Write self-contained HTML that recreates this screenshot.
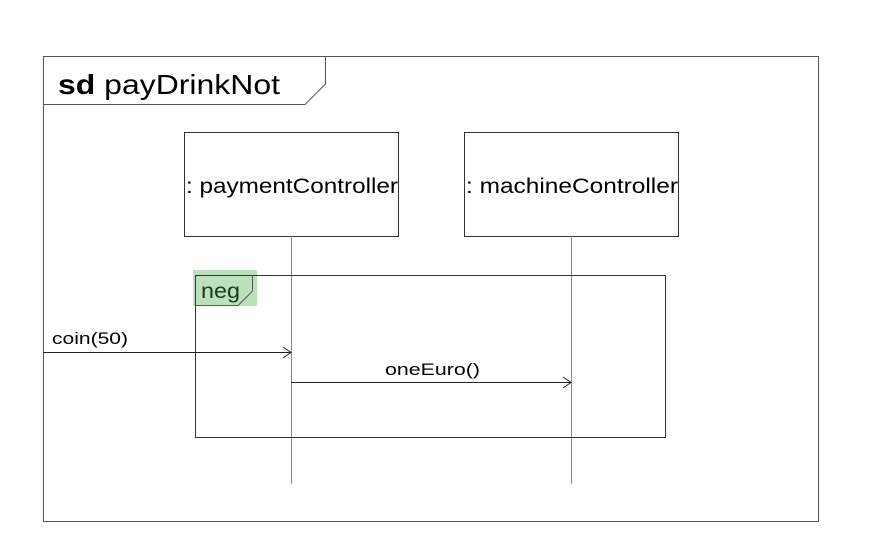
<!DOCTYPE html>
<html><head><style>body{margin:0;background:#fff}</style></head><body>
<svg width="874" height="542" xmlns="http://www.w3.org/2000/svg" font-family="Liberation Sans, sans-serif">
<rect x="43.5" y="56.5" width="775" height="465" fill="none" stroke="#555"/>
<path d="M43.5 104.5 H305 L325.5 84 V56.5" fill="none" stroke="#555"/>
<text x="58" y="94" font-size="28" textLength="222" lengthAdjust="spacingAndGlyphs"><tspan font-weight="bold">sd</tspan> payDrinkNot</text>
<rect x="184.5" y="132.5" width="214" height="104" fill="#fff" stroke="#333"/>
<text x="186" y="193" font-size="21" textLength="212" lengthAdjust="spacingAndGlyphs">: paymentController</text>
<rect x="464.5" y="132.5" width="214" height="104" fill="#fff" stroke="#333"/>
<text x="466" y="193" font-size="21" textLength="212" lengthAdjust="spacingAndGlyphs">: machineController</text>
<line x1="291.5" y1="236" x2="291.5" y2="484" stroke="#888"/>
<line x1="571.5" y1="236" x2="571.5" y2="484" stroke="#888"/>
<rect x="193" y="270" width="64" height="36" fill="#b5dcb5" opacity="0.9"/>
<rect x="195.5" y="275.5" width="470" height="162" fill="none" stroke="#333"/>
<path d="M195.5 305.5 H238 L252.5 291 V275.5" fill="none" stroke="#555"/>
<text x="201" y="298" font-size="21" textLength="39" lengthAdjust="spacingAndGlyphs" fill="#1a3a1a">neg</text>
<line x1="43" y1="352.5" x2="290" y2="352.5" stroke="#222"/>
<path d="M283 347 L291 352.5 L283 358" fill="none" stroke="#222"/>
<text x="52" y="344" font-size="17" textLength="76" lengthAdjust="spacingAndGlyphs">coin(50)</text>
<line x1="291" y1="382.5" x2="570" y2="382.5" stroke="#222"/>
<path d="M563 377 L571 382.5 L563 388" fill="none" stroke="#222"/>
<text x="385" y="375" font-size="17" textLength="95" lengthAdjust="spacingAndGlyphs">oneEuro()</text>
</svg>
</body></html>
